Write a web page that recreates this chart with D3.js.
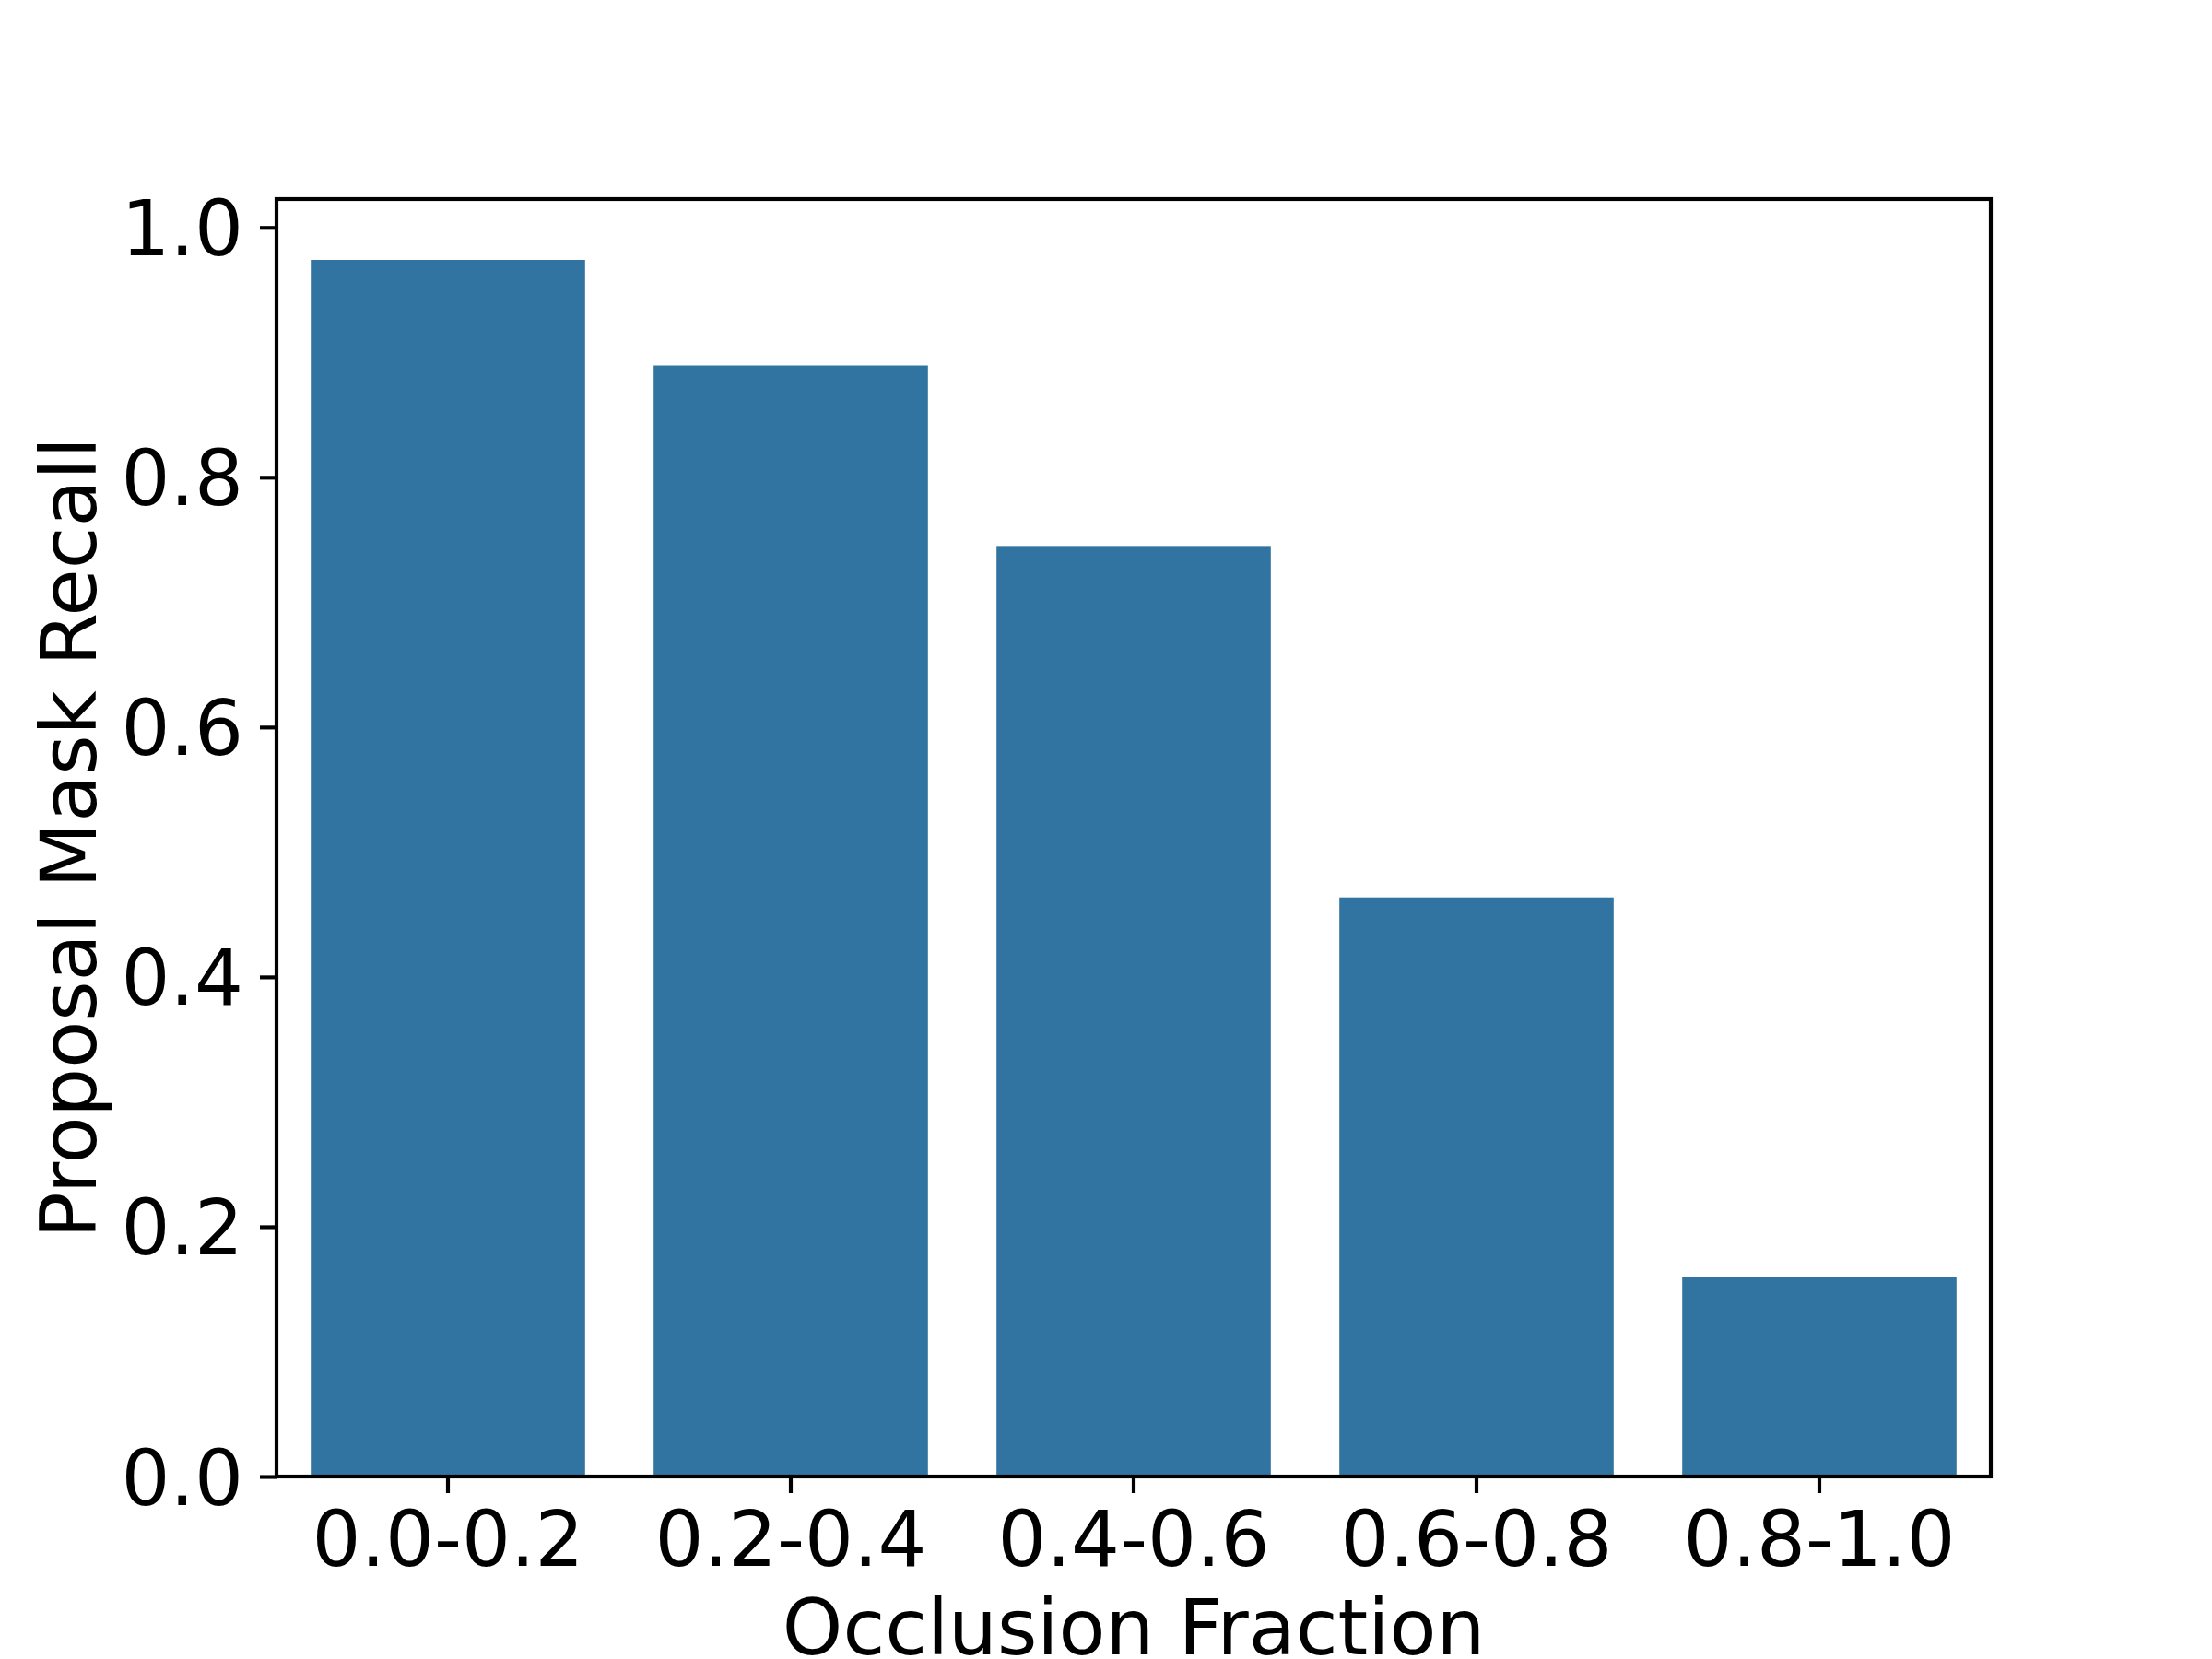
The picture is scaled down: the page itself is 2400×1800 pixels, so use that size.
<!DOCTYPE html>
<html>
<head>
<meta charset="utf-8">
<script src="https://cdn.jsdelivr.net/npm/d3@7"></script>
<style>
  html, body { margin: 0; padding: 0; background: #fff; }
  svg text { font-family: "DejaVu Sans", sans-serif; fill: #000; }
</style>
</head>
<body>
<svg id="chart" width="2400" height="1800"></svg>
<script>
const categories = ['0.0-0.2', '0.2-0.4', '0.4-0.6', '0.6-0.8', '0.8-1.0'];
const recall = [0.974, 0.8895, 0.745, 0.4636, 0.1594];
const yTicks = [0.0, 0.2, 0.4, 0.6, 0.8, 1.0];

const W = 2400, H = 1800;
const margin = { left: 300, right: 240, top: 216, bottom: 198 };
const fontPx = 83.3;
const tickLen = 18, tickPad = 18, lw = 4.17;

const svg = d3.select('#chart');
svg.append('rect').attr('width', W).attr('height', H).attr('fill', '#fff');

const x = d3.scaleBand()
  .domain(categories)
  .range([margin.left, W - margin.right])
  .paddingInner(0.2)
  .paddingOuter(0.1);

const y = d3.scaleLinear()
  .domain([0, d3.max(recall) * 1.05])
  .range([H - margin.bottom, margin.top]);

// bars
svg.append('g')
  .selectAll('rect')
  .data(categories.map((c, i) => ({ c, v: recall[i] })))
  .enter()
  .append('rect')
  .attr('x', d => x(d.c))
  .attr('y', d => y(d.v))
  .attr('width', x.bandwidth())
  .attr('height', d => y(0) - y(d.v))
  .attr('fill', '#3274a1');

// axes
const xAxis = d3.axisBottom(x)
  .tickSize(tickLen)
  .tickPadding(tickPad)
  .tickSizeOuter(0);
const yAxis = d3.axisLeft(y)
  .tickValues(yTicks)
  .tickFormat(d3.format('.1f'))
  .tickSize(tickLen)
  .tickPadding(tickPad)
  .tickSizeOuter(0);

const gx = svg.append('g')
  .attr('transform', `translate(0,${H - margin.bottom})`)
  .call(xAxis);
const gy = svg.append('g')
  .attr('transform', `translate(${margin.left},0)`)
  .call(yAxis);

[gx, gy].forEach(g => {
  g.select('.domain').remove();
  g.selectAll('.tick line').attr('stroke', '#000').attr('stroke-width', lw);
  g.selectAll('.tick text')
    .attr('font-size', fontPx)
    .attr('font-family', '"DejaVu Sans", sans-serif')
    .attr('fill', '#000');
});
gx.selectAll('.tick text').attr('dy', null).attr('y', null)
  .attr('transform', `translate(0,${tickLen + tickPad + 60.7})`);
gy.selectAll('.tick text').attr('dy', '0.36em');

// frame
svg.append('rect')
  .attr('x', margin.left)
  .attr('y', margin.top)
  .attr('width', W - margin.left - margin.right)
  .attr('height', H - margin.top - margin.bottom)
  .attr('fill', 'none')
  .attr('stroke', '#000')
  .attr('stroke-width', lw)
  .attr('stroke-linejoin', 'miter');

// labels
svg.append('text')
  .attr('x', (margin.left + W - margin.right) / 2)
  .attr('y', 1795)
  .attr('text-anchor', 'middle')
  .attr('font-size', fontPx)
  .text('Occlusion Fraction');

svg.append('text')
  .attr('transform', `translate(104,${(margin.top + H - margin.bottom) / 2}) rotate(-90)`)
  .attr('text-anchor', 'middle')
  .attr('font-size', fontPx)
  .text('Proposal Mask Recall');
</script>
</body>
</html>
